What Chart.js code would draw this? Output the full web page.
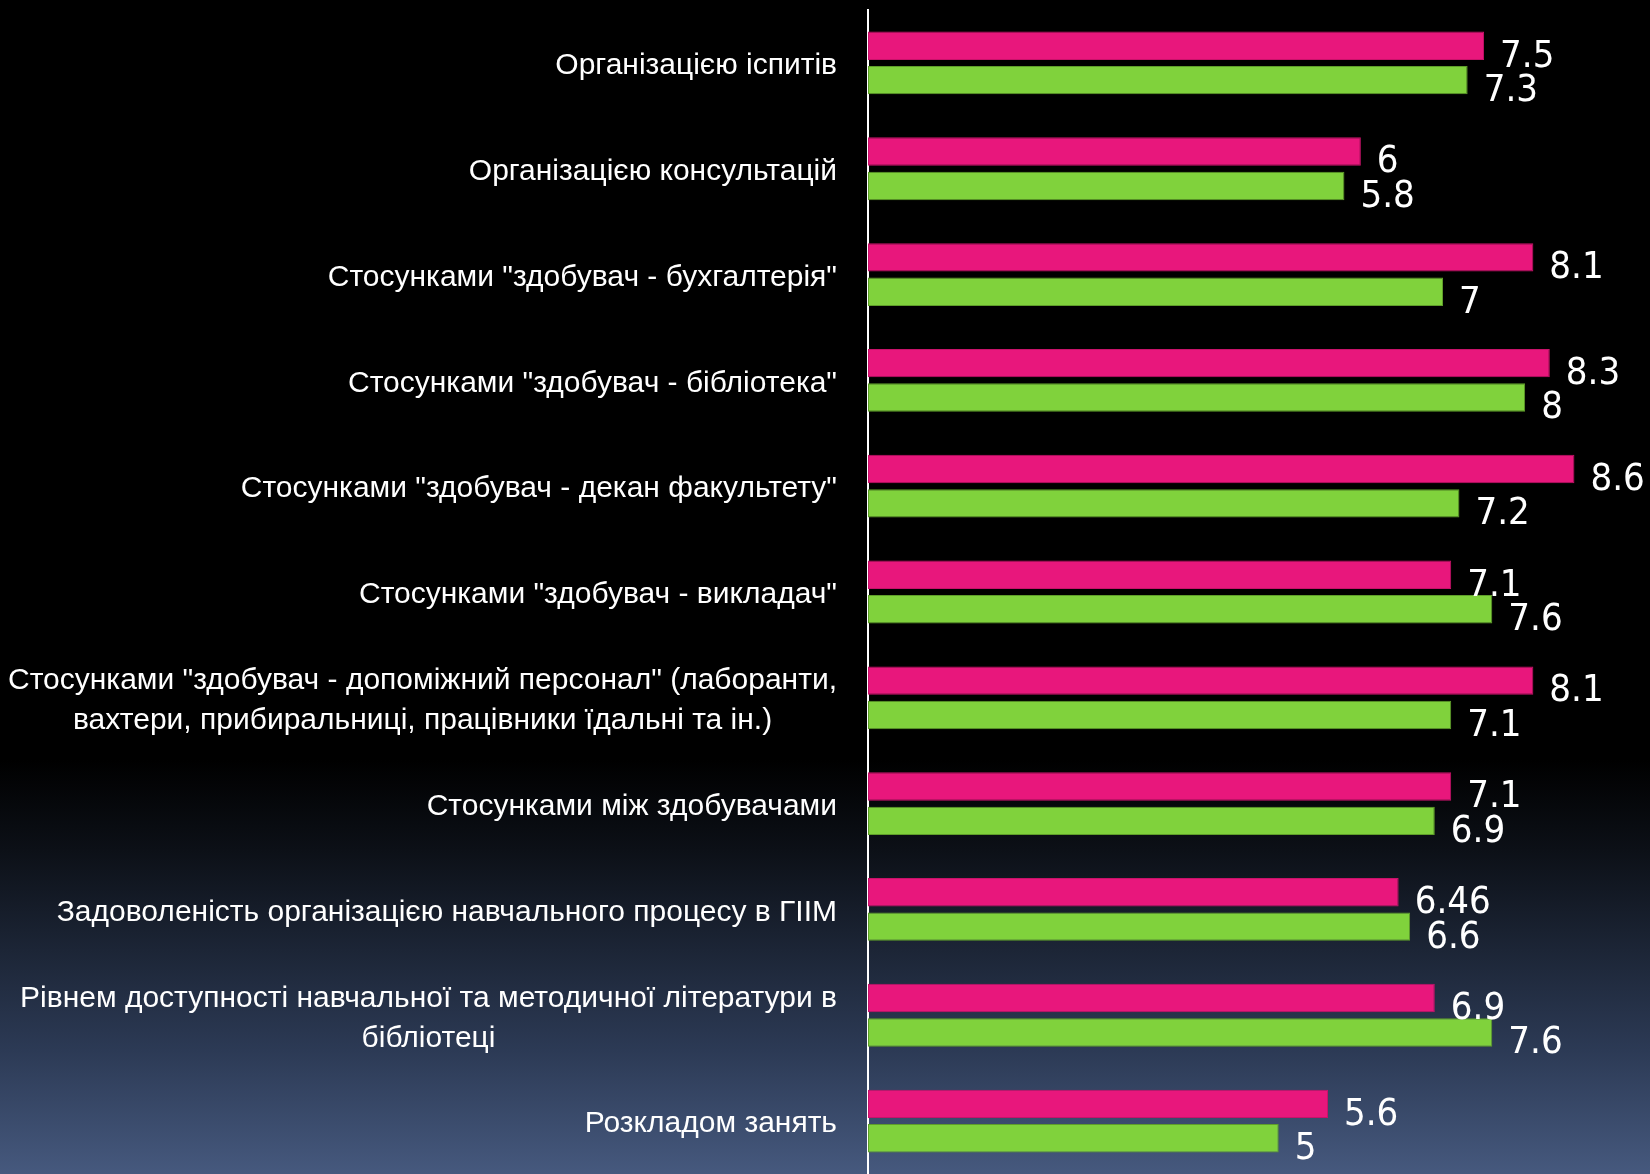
<!DOCTYPE html>
<html>
<head>
<meta charset="utf-8">
<script src="https://cdn.jsdelivr.net/npm/chart.js@4.4.1/dist/chart.umd.min.js"></script>
<style>
  html, body { margin: 0; padding: 0; }
  body {
    width: 1650px; height: 1174px; overflow: hidden;
    background: linear-gradient(to bottom, #000000 0px, #000000 760px, #0c1017 850px, #2c3a55 1050px, #46597e 1174px);
  }
  canvas { display: block; }
</style>
</head>
<body>
<canvas id="c" width="1650" height="1174"></canvas>
<script>
const categories = [
  ["Організацією іспитів"],
  ["Організацією консультацій"],
  ["Стосунками \"здобувач - бухгалтерія\""],
  ["Стосунками \"здобувач - бібліотека\""],
  ["Стосунками \"здобувач - декан факультету\""],
  ["Стосунками \"здобувач - викладач\""],
  ["Стосунками \"здобувач - допоміжний персонал\" (лаборанти,", "вахтери, прибиральниці, працівники їдальні та ін.)"],
  ["Стосунками між здобувачами"],
  ["Задоволеність організацією навчального процесу в ГІІМ"],
  ["Рівнем доступності навчальної та методичної літератури в", "бібліотеці"],
  ["Розкладом занять"]
];
const seriesPink = [7.5, 6, 8.1, 8.3, 8.6, 7.1, 8.1, 7.1, 6.46, 6.9, 5.6];
const seriesGreen = [7.3, 5.8, 7, 8, 7.2, 7.6, 7.1, 6.9, 6.6, 7.6, 5];
const pinkLabels = ["7.5", "6", "8.1", "8.3", "8.6", "7.1", "8.1", "7.1", "6.46", "6.9", "5.6"];
const greenLabels = ["7.3", "5.8", "7", "8", "7.2", "7.6", "7.1", "6.9", "6.6", "7.6", "5"];

const labelPlugin = {
  id: 'customLabels',
  afterDraw(chart) {
    const ctx = chart.ctx;
    const yScale = chart.scales.y;
    const xScale = chart.scales.x;
    ctx.save();
    // category labels
    ctx.font = '30px "Liberation Sans", Arial, sans-serif';
    ctx.fillStyle = '#ffffff';
    ctx.textBaseline = 'middle';
    ctx.textAlign = 'center';
    const right = xScale.left - 31;
    const lh = 40;
    categories.forEach((lines, i) => {
      const y = yScale.getPixelForValue(i) + 3;
      let maxW = 0;
      lines.forEach(l => { maxW = Math.max(maxW, ctx.measureText(l).width); });
      const cx = right - maxW / 2;
      const y0 = y - (lines.length - 1) * lh / 2;
      lines.forEach((l, k) => ctx.fillText(l, cx, y0 + k * lh));
    });
    // value labels
    ctx.font = '38px "Liberation Sans Narrow", "DejaVu Sans Condensed", sans-serif';
    ctx.textAlign = 'left';
    const texts = [pinkLabels, greenLabels];
    chart.data.datasets.forEach((ds, di) => {
      const meta = chart.getDatasetMeta(di);
      meta.data.forEach((el, i) => {
        ctx.fillText(texts[di][i], el.x + 16, el.y + 11);
      });
    });
    ctx.restore();
  }
};

new Chart(document.getElementById('c'), {
  type: 'bar',
  data: {
    labels: categories.map(c => c.join(' ')),
    datasets: [
      { data: seriesPink, backgroundColor: '#e8177c', borderColor: '#c8126a', borderWidth: 1, borderSkipped: false,
        categoryPercentage: 0.65, barPercentage: 0.826 },
      { data: seriesGreen, backgroundColor: '#80d23c', borderColor: '#5f9e2a', borderWidth: 1, borderSkipped: false,
        categoryPercentage: 0.65, barPercentage: 0.826 }
    ]
  },
  options: {
    indexAxis: 'y',
    responsive: false,
    devicePixelRatio: 1,
    animation: false,
    layout: { padding: { left: 868, top: 10, right: 0, bottom: 0 } },
    plugins: { legend: { display: false }, tooltip: { enabled: false } },
    scales: {
      x: { min: 0, max: 9.52, display: false },
      y: {
        display: true,
        ticks: { display: false },
        grid: { display: false, drawTicks: false },
        border: { display: true, color: '#ffffff', width: 2 },
        afterFit(s) { s.width = 0; }
      }
    }
  },
  plugins: [labelPlugin]
});
</script>
</body>
</html>
